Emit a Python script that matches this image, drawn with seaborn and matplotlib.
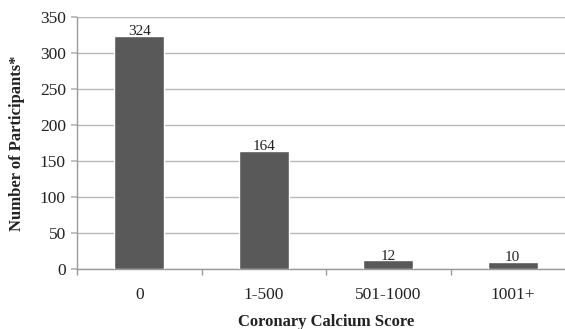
import matplotlib
matplotlib.use("Agg")
import matplotlib.pyplot as plt
import numpy as np
import pandas as pd
import seaborn as sns

categories = ["0", "1-500", "501-1000", "1001+"]
participants = [324, 164, 12, 10]
y_ticks = [0, 50, 100, 150, 200, 250, 300, 350]

df = pd.DataFrame({"score": categories, "n": participants})

sns.set_theme(style="white")
plt.rcParams["font.family"] = ["Liberation Serif", "DejaVu Serif"]

fig = plt.figure(figsize=(5.65, 3.29), dpi=100)
# right edge of the plot area runs past the image edge, as in the original
ax = fig.add_axes([77 / 565, 1 - 269 / 329, 498 / 565, 252 / 329])

sns.barplot(data=df, x="score", y="n", color="#595959", width=0.4,
            saturation=1, ax=ax, zorder=3)

for i, v in enumerate(participants):
    ax.text(i, v + 1, str(v), ha="center", va="baseline", fontsize=11,
            color="#222222", zorder=4)

ax.set_ylim(0, 350)
ax.set_xlim(-0.5, len(categories) - 0.5)
ax.set_yticks(y_ticks)
ax.yaxis.grid(True, color="#b8b8b8", linewidth=1, zorder=0)
ax.tick_params(axis="y", length=4, color="#b8b8b8", labelsize=12.5, pad=4,
               left=True, labelcolor="#222222")
ax.tick_params(axis="x", which="major", length=0, labelsize=12.5, pad=13,
               labelcolor="#222222")
ax.set_xticks(np.arange(len(categories) + 1) - 0.5, minor=True)
ax.tick_params(axis="x", which="minor", length=4, color="#9a9a9a",
               bottom=True)

for s in ["top", "right"]:
    ax.spines[s].set_visible(False)
for s in ["left", "bottom"]:
    ax.spines[s].set_color("#9a9a9a")
    ax.spines[s].set_linewidth(1)

ax.set_xlabel("Coronary Calcium Score", fontsize=12, fontweight="bold",
              color="#222222")
ax.set_ylabel("Number of Participants*", fontsize=12, fontweight="bold",
              color="#222222")
ax.xaxis.set_label_coords((326 - 77) / 498, -45 / 252)
ax.yaxis.set_label_coords((25 - 77) / 498, 0.5)

fig.savefig("out.png", dpi=100)
